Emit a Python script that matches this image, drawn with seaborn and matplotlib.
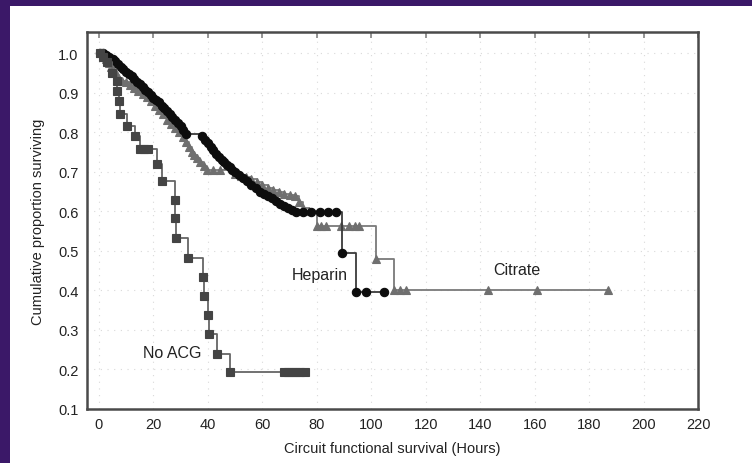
import matplotlib
matplotlib.use("Agg")
import matplotlib.pyplot as plt
import seaborn as sns
import pandas as pd

# ---- data (Kaplan-Meier curves) ----
heparin_t = [0.5, 1.5, 2.5, 3.5, 5, 6, 7, 8, 9, 10, 11, 12, 13, 14, 15, 16, 17, 18, 19, 20,
             21, 22, 23, 24, 25, 26, 27, 28, 29, 30, 31, 32, 38, 39, 40, 41, 42, 43, 44, 45,
             46, 47, 48, 49, 50, 51.5, 53, 54.5, 56, 57.5, 59, 60.5, 62, 63.5, 65, 66.5, 68,
             69.5, 71, 72.5, 75, 78, 81, 84, 87, 89.4, 94.5, 98, 104.8]
heparin_s = [1.0, 1.0, 0.995, 0.99, 0.985, 0.98, 0.972, 0.965, 0.96, 0.953, 0.947, 0.942, 0.935,
             0.928, 0.922, 0.915, 0.908, 0.902, 0.895, 0.888, 0.882, 0.876, 0.868, 0.861, 0.853,
             0.846, 0.84, 0.832, 0.824, 0.815, 0.806, 0.797, 0.79, 0.78, 0.772, 0.763, 0.755,
             0.746, 0.738, 0.73, 0.724, 0.718, 0.712, 0.706, 0.70, 0.693, 0.684, 0.676, 0.666,
             0.658, 0.65, 0.645, 0.639, 0.633, 0.627, 0.62, 0.614, 0.608, 0.603, 0.598, 0.598,
             0.598, 0.598, 0.598, 0.598, 0.495, 0.397, 0.397, 0.397]

citrate_t = [0.5, 1.5, 2.5, 3.5, 4.5, 5.5, 6.5, 7.5, 8.5, 10, 11.5, 13, 14.5, 16, 17.5, 19, 20.5,
             22, 23.5, 25, 26.5, 28, 29.5, 31, 32, 33, 34, 35, 36, 37, 38.5, 39.6, 42, 44.5,
             50, 52, 54, 56, 58, 60, 62, 64, 66, 68, 70, 72, 73.5, 75, 77, 80, 81.7, 83.5, 89,
             92, 94, 95.6, 101.8, 108.4, 110.5, 112.7, 143, 161, 187]
citrate_s = [1.0, 0.995, 0.985, 0.975, 0.965, 0.955, 0.945, 0.935, 0.93, 0.927, 0.92, 0.912,
             0.905, 0.897, 0.889, 0.88, 0.868, 0.856, 0.846, 0.832, 0.82, 0.81, 0.8, 0.789,
             0.776, 0.763, 0.75, 0.742, 0.734, 0.726, 0.715, 0.704, 0.704, 0.704, 0.695, 0.69,
             0.686, 0.683, 0.675, 0.668, 0.66, 0.653, 0.648, 0.645, 0.642, 0.64, 0.625, 0.608,
             0.60, 0.563, 0.563, 0.563, 0.563, 0.563, 0.563, 0.563, 0.48, 0.40, 0.40, 0.40,
             0.40, 0.40, 0.40]

noacg_t = [0.5, 1.5, 2.9, 4.8, 6.6, 6.8, 7.2, 7.7, 10.2, 13.2, 15, 16.5, 18, 21.2, 23, 27.8,
           28.0, 28.2, 32.6, 38.1, 38.5, 40.0, 40.3, 43.2, 48, 68, 69.5, 71, 72.5, 74, 75.5]
noacg_s = [1.0, 0.99, 0.977, 0.95, 0.93, 0.905, 0.88, 0.847, 0.817, 0.79, 0.759, 0.759, 0.759,
           0.72, 0.678, 0.628, 0.583, 0.533, 0.482, 0.435, 0.387, 0.339, 0.289, 0.239, 0.193,
           0.193, 0.193, 0.193, 0.193, 0.193, 0.193]

x_ticks = [0, 20, 40, 60, 80, 100, 120, 140, 160, 180, 200, 220]
y_ticks = [0.1, 0.2, 0.3, 0.4, 0.5, 0.6, 0.7, 0.8, 0.9, 1.0]
x_label = "Circuit functional survival (Hours)"
y_label = "Cumulative proportion surviving"
labels = {"Heparin": (81, 0.44), "Citrate": (153.5, 0.452), "No ACG": (27, 0.244)}

# ---- plotting ----
sns.set_theme(style="white")
plt.rcParams["font.family"] = ["Liberation Sans", "DejaVu Sans"]

fig = plt.figure(figsize=(7.52, 4.64), dpi=100)
fig.patch.set_facecolor("#3b1868")
bg = fig.add_axes([10 / 752, 0, 1 - 10 / 752, 1 - 7 / 464], zorder=-5)
bg.set_facecolor("white")
bg.set_xticks([])
bg.set_yticks([])
for sp in bg.spines.values():
    sp.set_visible(False)

ax = fig.add_axes([87 / 752, 1 - 410 / 464, (698 - 87) / 752, (410 - 33) / 464])
ax.set_facecolor("white")

series = [
    (citrate_t, citrate_s, "^", "#6f6f6f", "#7a7a7a", 6.2),
    (heparin_t, heparin_s, "o", "#0d0d0d", "#3a3a3a", 6.0),
    (noacg_t, noacg_s, "s", "#444444", "#666666", 5.6),
]
for t, s, m, mc, lc, ms in series:
    df = pd.DataFrame({"t": t, "s": s})
    sns.lineplot(data=df, x="t", y="s", ax=ax, estimator=None, sort=False,
                 drawstyle="steps-post", color=lc, linewidth=1.3,
                 marker=m, markersize=ms, markerfacecolor=mc, markeredgecolor=mc,
                 markeredgewidth=0.8)

for name, (x, y) in labels.items():
    ax.text(x, y, name, ha="center", va="center", fontsize=11.5, color="#222222")

ax.set_xlim(-4.4, 220)
ax.set_ylim(0.1, 1.054)
ax.set_xticks(x_ticks)
ax.set_yticks(y_ticks)
ax.set_xticklabels([str(v) for v in x_ticks], fontsize=10.5, color="#222222")
ax.set_yticklabels([f"{v:.1f}" for v in y_ticks], fontsize=10.5, color="#222222")
ax.tick_params(axis="both", length=0, pad=6)
ax.tick_params(axis="x", top=True, direction="in", length=4, color="#888888")
ax.tick_params(axis="x", bottom=False)
ax.grid(True, linestyle=(0, (1, 5)), color="#d9d9d9", linewidth=0.8)
for sp in ax.spines.values():
    sp.set_visible(True)
    sp.set_color("#4a4a4a")
    sp.set_linewidth(1.8)

ax.set_xlabel(x_label, fontsize=10.5, color="#222222")
ax.set_ylabel(y_label, fontsize=10.5, color="#222222")
ax.xaxis.set_label_coords(0.5, -0.085)
ax.yaxis.set_label_coords(-0.069, 0.5)

fig.savefig("out.png", dpi=100, facecolor=fig.get_facecolor())
